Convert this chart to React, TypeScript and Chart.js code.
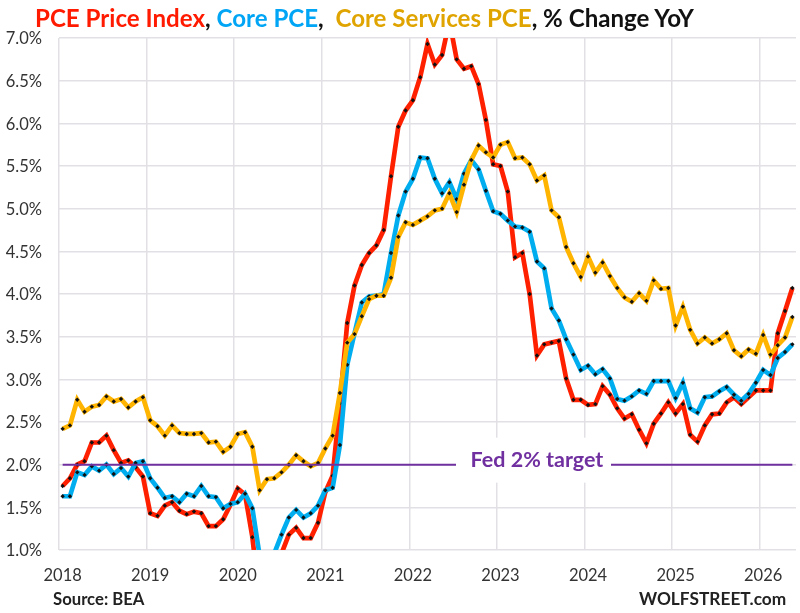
import { useEffect, useRef } from "react"
import { Chart, registerables, type Plugin } from "chart.js"

Chart.register(...registerables)

const years = [2018, 2019, 2020, 2021, 2022, 2023, 2024, 2025, 2026]
const months = ["01", "02", "03", "04", "05", "06", "07", "08", "09", "10", "11", "12"]
const categories = years.flatMap((y) => months.map((m) => `${y}-${m}`)).slice(0, 101)

const pcePrice = [
  1.75, 1.84, 2.0, 2.04, 2.26, 2.26, 2.34, 2.17, 2.02, 2.05, 1.97, 1.86,
  1.43, 1.4, 1.52, 1.56, 1.46, 1.42, 1.45, 1.43, 1.28, 1.28, 1.36, 1.53,
  1.72, 1.65, 1.15, 0.4, 0.5, 0.6, 0.96, 1.18, 1.26, 1.14, 1.14, 1.32,
  1.68, 1.87, 2.72, 3.66, 4.1, 4.34, 4.48, 4.57, 4.75, 5.38, 5.96, 6.15,
  6.27, 6.54, 6.93, 6.69, 6.8, 7.2, 6.75, 6.64, 6.67, 6.46, 6.04, 5.52,
  5.5, 5.2, 4.43, 4.48, 4.0, 3.28, 3.41, 3.43, 3.45, 3.01, 2.76, 2.76,
  2.7, 2.71, 2.92, 2.82, 2.66, 2.54, 2.59, 2.41, 2.25, 2.48, 2.6, 2.73,
  2.6, 2.71, 2.35, 2.27, 2.46, 2.59, 2.6, 2.73, 2.79, 2.71, 2.79, 2.87,
  2.87, 2.87, 3.54, 3.8, 4.07,
]

const corePce = [
  1.63, 1.63, 1.91, 1.88, 1.98, 1.93, 2.0, 1.89, 1.96, 1.86, 2.02, 2.04,
  1.84, 1.73, 1.61, 1.63, 1.56, 1.66, 1.63, 1.75, 1.63, 1.62, 1.49, 1.54,
  1.56, 1.66, 1.49, 0.93, 0.9, 0.96, 1.18, 1.38, 1.47, 1.38, 1.43, 1.52,
  1.7, 1.73, 2.23, 3.17, 3.54, 3.9, 3.97, 3.98, 4.0, 4.48, 4.92, 5.2,
  5.35, 5.6, 5.59, 5.35, 5.18, 5.31, 5.11, 5.41, 5.57, 5.46, 5.21, 4.97,
  4.94, 4.86, 4.79, 4.78, 4.73, 4.38, 4.3, 3.83, 3.69, 3.47, 3.29, 3.11,
  3.16, 3.06, 3.12, 3.01, 2.77, 2.75, 2.8, 2.87, 2.83, 2.98, 2.98, 2.98,
  2.78, 2.96, 2.66, 2.61, 2.79, 2.8, 2.86, 2.91, 2.82, 2.75, 2.83, 2.96,
  3.11, 3.05, 3.25, 3.32, 3.41,
]

const coreServices = [
  2.42, 2.46, 2.76, 2.62, 2.68, 2.7, 2.8, 2.74, 2.77, 2.67, 2.74, 2.79,
  2.52, 2.45, 2.34, 2.46, 2.37, 2.36, 2.36, 2.37, 2.26, 2.27, 2.15, 2.21,
  2.36, 2.38, 2.21, 1.7, 1.83, 1.84, 1.91, 2.0, 2.11, 2.04, 1.98, 2.02,
  2.19, 2.34, 2.84, 3.43, 3.53, 3.74, 3.94, 3.98, 3.98, 4.19, 4.67, 4.84,
  4.81, 4.86, 4.91, 4.98, 5.0, 5.18, 4.96, 5.28, 5.57, 5.74, 5.66, 5.6,
  5.75, 5.78, 5.59, 5.6, 5.52, 5.33, 5.39, 4.98, 4.9, 4.55, 4.36, 4.2,
  4.44, 4.25, 4.37, 4.21, 4.07, 3.96, 3.91, 4.01, 3.92, 4.16, 4.06, 4.07,
  3.63, 3.85, 3.58, 3.42, 3.49, 3.42, 3.47, 3.54, 3.34, 3.27, 3.35, 3.3,
  3.52, 3.29, 3.4, 3.49, 3.73,
]

const fedTarget = categories.map(() => 2)

const RED = "#FF2000"
const BLUE = "#00AEEF"
const GOLD = "#FFB400"
const PURPLE = "#7030A0"
const GRID = "#E2E0E4"
const FONT = "Lato, sans-serif"

// white box with the target label, sits on top of the purple line
const fedLabel: Plugin<"line"> = {
  id: "fedLabel",
  afterDatasetsDraw(chart) {
    const { ctx, scales } = chart
    const x = scales.x.getPixelForValue(65)
    const y = scales.y.getPixelForValue(2)
    ctx.save()
    ctx.fillStyle = "#fff"
    ctx.fillRect(456, y - 27, 155, 45)
    ctx.fillStyle = PURPLE
    ctx.font = `bold 21.5px ${FONT}`
    ctx.textAlign = "center"
    ctx.textBaseline = "middle"
    ctx.fillText("Fed 2% target", x, y - 5)
    ctx.restore()
  },
}

function series(label: string, data: number[], color: string, order: number) {
  return {
    label,
    data,
    order,
    borderColor: color,
    backgroundColor: color,
    borderWidth: 4.7,
    pointStyle: "rectRot",
    pointRadius: 2.2,
    pointBackgroundColor: "#111",
    pointBorderWidth: 0,
    tension: 0,
  }
}

export default function App() {
  const canvasRef = useRef<HTMLCanvasElement>(null)

  useEffect(() => {
    if (!canvasRef.current) return

    const chart = new Chart(canvasRef.current, {
      type: "line",
      data: {
        labels: categories,
        datasets: [
          { label: "Fed 2% target", data: fedTarget, order: 0, borderColor: PURPLE, borderWidth: 2, pointRadius: 0 },
          series("Core Services PCE", coreServices, GOLD, 1),
          series("Core PCE", corePce, BLUE, 2),
          series("PCE Price Index", pcePrice, RED, 3),
        ],
      },
      plugins: [fedLabel],
      options: {
        responsive: false,
        animation: false,
        layout: { padding: { top: 38, right: 2 } },
        plugins: {
          legend: { display: false },
          tooltip: { enabled: false },
        },
        scales: {
          x: {
            type: "category",
            offset: true,
            afterFit: (s) => {
              s.height = 63
              s.paddingRight = 0
            },
            border: { display: false },
            grid: {
              offset: true,
              drawTicks: false,
              lineWidth: 1.5,
              color: (c) => (c.index % 12 === 0 ? GRID : "transparent"),
            },
            ticks: {
              autoSkip: false,
              maxRotation: 0,
              padding: 16,
              color: "#333",
              font: { family: FONT, size: 16.5 },
              callback: (_v, i) => (i % 12 === 0 ? categories[i].slice(0, 4) : ""),
            },
          },
          y: {
            min: 1,
            max: 7,
            afterFit: (s) => {
              s.width = 59
            },
            border: { display: false },
            grid: { drawTicks: false, lineWidth: 1.5, color: GRID },
            ticks: {
              stepSize: 0.5,
              padding: 17,
              labelOffset: 1,
              color: "#333",
              font: { family: FONT, size: 16.5 },
              callback: (v) => `${Number(v).toFixed(1)}%`,
            },
          },
        },
      },
    })

    return () => chart.destroy()
  }, [])

  return (
    <div style={{ position: "absolute", left: 0, top: 0, width: 800, height: 613, overflow: "hidden", background: "#fff", fontFamily: FONT }}>
      <canvas ref={canvasRef} width={800} height={613} style={{ display: "block" }} />
      <div style={{ position: "absolute", left: 35, top: 3, fontSize: 24.1, fontWeight: 700, whiteSpace: "pre", color: "#111" }}>
        <span style={{ color: "#FF1A00" }}>PCE Price Index</span>,{" "}
        <span style={{ color: "#00A5F5" }}>Core PCE</span>,{"  "}
        <span style={{ color: "#E0A400" }}>Core Services PCE</span>, % Change YoY
      </div>
      <div style={{ position: "absolute", left: 53, top: 589, fontSize: 16.7, fontWeight: 700, color: "#222" }}>Source: BEA</div>
      <div style={{ position: "absolute", left: 639, top: 588, fontSize: 17.3, fontWeight: 700, color: "#222" }}>WOLFSTREET.com</div>
    </div>
  )
}
